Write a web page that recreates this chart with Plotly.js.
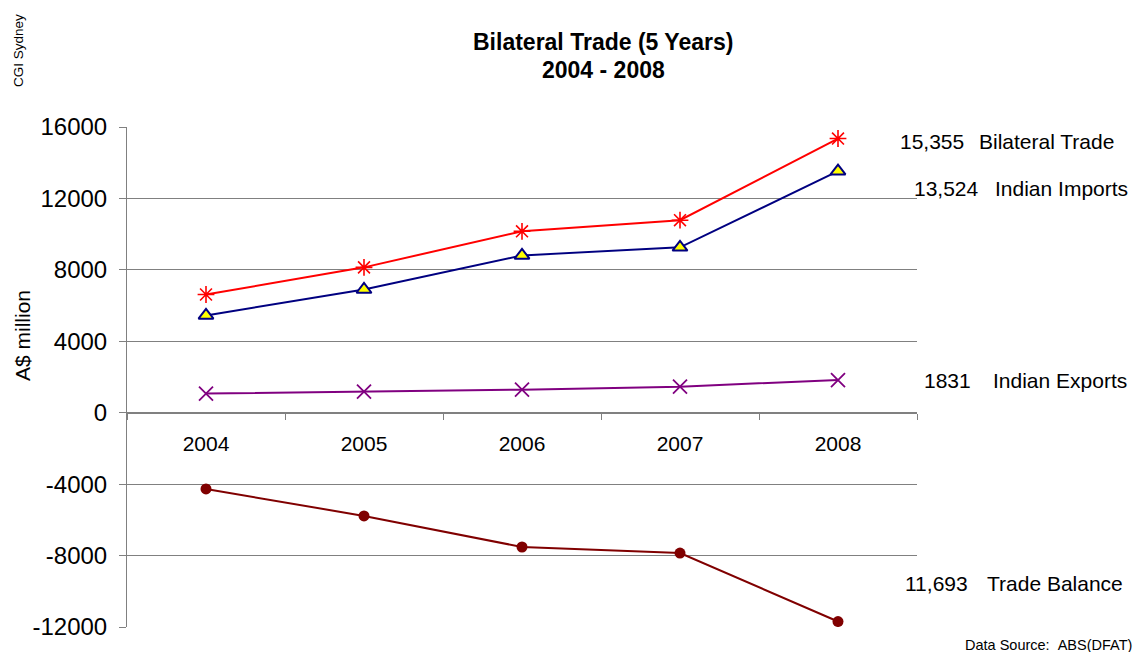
<!DOCTYPE html>
<html>
<head>
<meta charset="utf-8">
<script src="https://cdn.plot.ly/plotly-3.0.1.min.js"></script>
<style>html,body{margin:0;padding:0;background:#fff}#chart{width:1135px;height:652px}</style>
</head>
<body>
<div id="chart"></div>
<script>
const years = ['2004', '2005', '2006', '2007', '2008'];
const bilateralTrade = [6620, 8140, 10160, 10780, 15355];
const indianImports = [5450, 6900, 8810, 9260, 13524];
const indianExports = [1070, 1180, 1290, 1460, 1831];
const tradeBalance = [-4270, -5780, -7520, -7860, -11693];
const yTicks = [-12000, -8000, -4000, 0, 4000, 8000, 12000, 16000];
const endValueLabels = ['15,355', '13,524', '1831', '11,693'];
const seriesNames = ['Bilateral Trade', 'Indian Imports', 'Indian Exports', 'Trade Balance'];

const NB = '\u00a0';
const font = 'Liberation Sans, Arial, sans-serif';

const traces = [
  {x: years, y: bilateralTrade, mode: 'lines+markers', name: seriesNames[0],
   line: {color: '#ff0000', width: 2},
   marker: {symbol: 'asterisk-open', size: 14, color: '#ff0000', line: {color: '#ff0000', width: 1.6}}},
  {x: years, y: indianImports, mode: 'lines+markers', name: seriesNames[1],
   line: {color: '#000080', width: 2},
   marker: {symbol: 'triangle-up', size: 13, color: '#ffff00', line: {color: '#000080', width: 2}}},
  {x: years, y: indianExports, mode: 'lines+markers', name: seriesNames[2],
   line: {color: '#800080', width: 2},
   marker: {symbol: 'x-thin-open', size: 14, color: '#800080', line: {color: '#800080', width: 1.8}}},
  {x: years, y: tradeBalance, mode: 'lines+markers', name: seriesNames[3],
   line: {color: '#800000', width: 2},
   marker: {symbol: 'circle', size: 11, color: '#800000'}}
];

const L = 127, W = 790, T = 127, H = 500;
function px(x) { return (x - L) / W; }
function py(y) { return 1 - (y - T) / H; }

// label layout: [numberLeft, nameLeft, centerY]
const labelPos = [[898, 977, 141], [912, 993, 188], [922, 991, 380], [903, 985, 583]];
const annotations = [];
labelPos.forEach((p, i) => {
  annotations.push({text: endValueLabels[i], x: px(p[0]), y: py(p[2]), xref: 'paper', yref: 'paper',
    xanchor: 'left', yanchor: 'middle', showarrow: false, font: {size: 21}});
  annotations.push({text: seriesNames[i], x: px(p[1]), y: py(p[2]), xref: 'paper', yref: 'paper',
    xanchor: 'left', yanchor: 'middle', showarrow: false, font: {size: 21}});
});
annotations.push({text: 'CGI Sydney', x: px(18), y: py(50), xref: 'paper', yref: 'paper', textangle: -90,
  xanchor: 'center', yanchor: 'middle', showarrow: false, font: {size: 13.5}});
annotations.push({text: 'A$ million', x: px(22), y: py(336), xref: 'paper', yref: 'paper', textangle: -90,
  xanchor: 'center', yanchor: 'middle', showarrow: false, font: {size: 21}});
annotations.push({text: 'Data Source:' + NB + NB + 'ABS(DFAT)', x: px(1134), y: py(645), xref: 'paper', yref: 'paper',
  xanchor: 'right', yanchor: 'middle', showarrow: false, font: {size: 14.5}});
annotations.push({text: '<b>Bilateral Trade (5 Years)</b>', x: px(603), y: py(42), xref: 'paper', yref: 'paper',
  xanchor: 'center', yanchor: 'middle', showarrow: false, font: {size: 23}});
annotations.push({text: '<b>2004 - 2008</b>', x: px(603), y: py(70), xref: 'paper', yref: 'paper',
  xanchor: 'center', yanchor: 'middle', showarrow: false, font: {size: 23}});

const layout = {
  width: 1135, height: 652,
  margin: {l: 127, r: 218, t: 127, b: 25, pad: 0},
  paper_bgcolor: '#ffffff', plot_bgcolor: '#ffffff',
  showlegend: false,
  font: {family: font, color: '#000000'},
  xaxis: {type: 'category', anchor: 'free', position: 12000 / 28000,
          showline: true, linecolor: '#808080', linewidth: 1,
          ticks: 'outside', tickson: 'boundaries', ticklen: 6, tickcolor: '#808080', tickwidth: 1,
          ticklabelstandoff: 12,
          showgrid: false, zeroline: false, tickfont: {size: 21, family: font}, range: [-0.5, 4.5]},
  yaxis: {range: [-12000, 16000], tickvals: yTicks, ticktext: yTicks.map(String),
          showline: true, linecolor: '#808080', linewidth: 1,
          ticks: 'outside', ticklen: 7, tickcolor: '#808080',
          ticklabelstandoff: 7,
          showgrid: true, gridcolor: '#808080', gridwidth: 1, zeroline: false,
          tickfont: {size: 24, family: font}},
  annotations: annotations
};

Plotly.newPlot('chart', traces, layout, {displayModeBar: false, staticPlot: true});
</script>
</body>
</html>
